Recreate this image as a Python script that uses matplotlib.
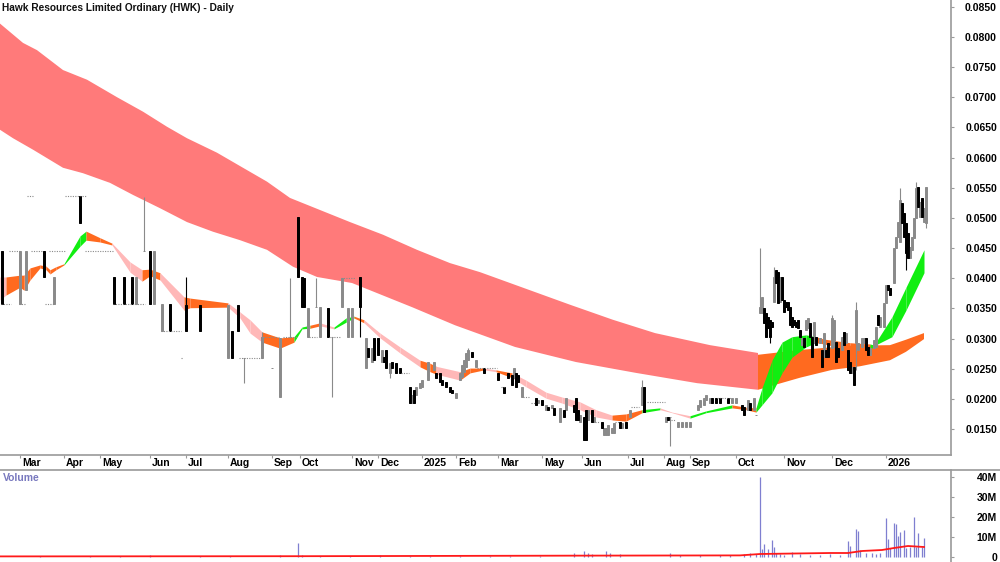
import numpy as np
import matplotlib
matplotlib.use('Agg')
import matplotlib.pyplot as plt
import matplotlib.transforms as mtransforms
from matplotlib.lines import Line2D

plt.rcParams['font.family'] = ['Liberation Sans', 'DejaVu Sans']

title = 'Hawk Resources Limited Ordinary (HWK) - Daily'

# x axis = trading day index
month_days = [10, 32, 50, 75, 93, 114, 136, 150, 176, 189, 211, 228, 249, 271, 291, 314, 332, 345, 368, 392, 416, 443]
month_labels = ['Mar', 'Apr', 'May', 'Jun', 'Jul', 'Aug', 'Sep', 'Oct', 'Nov', 'Dec', '2025', 'Feb',
                'Mar', 'May', 'Jun', 'Jul', 'Aug', 'Sep', 'Oct', 'Nov', 'Dec', '2026']

# daily candles (day, open, high, low, close)
day = [1, 10, 13, 22, 27, 40, 57, 62, 66, 68, 72, 75, 77, 81, 85, 93, 100, 114, 116, 119,
       122, 131, 136, 140, 145, 149, 151, 152, 154, 158, 160, 164, 166, 171, 174, 176, 180, 183, 184, 186,
       187, 189, 191, 192, 193, 195, 196, 198, 200, 205, 206, 207, 208, 210, 211, 214, 217, 218, 220, 221,
       223, 225, 226, 228, 230, 231, 232, 233, 234, 236, 238, 242, 249, 252, 254, 256, 257, 258, 259, 261,
       268, 269, 271, 273, 274, 276, 277, 280, 282, 283, 287, 288, 289, 290, 292, 293, 294, 296, 297, 301,
       302, 303, 304, 306, 307, 310, 311, 313, 315, 321, 322, 333, 334, 335, 339, 341, 343, 345, 349, 350,
       352, 353, 355, 356, 358, 360, 364, 366, 368, 371, 372, 374, 375, 377, 378,
       380, 381, 382, 383, 384, 385, 386, 387, 388, 389, 390, 391, 392, 393, 394, 395, 396, 397, 398, 399,
       400, 401, 402, 403, 404, 405, 406, 407, 408, 410, 411, 412, 413, 414, 416, 417, 418, 419, 421, 422,
       423, 424, 425, 426, 427, 428, 429, 431, 432, 433, 434, 435, 437, 438, 439, 440, 442, 443, 444, 445,
       447, 448, 449, 450, 451, 452, 453, 454, 455, 456, 457, 458, 459, 460, 461, 462, 463]
opn = [.0445, .0357, .0380, .0445, .0357, .0536, .0402, .0402, .0402, .0357, .0445, .0445, .0357, .0312, .0357, .0356, .0356, .0268, .0312, .0356,
       .0268, .0268, .0251, .0203, .0303, .0501, .0402, .0400, .0303, .0352, .0303, .0351, .0303, .0352, .0303, .0303, .0402, .0251, .0284, .0261,
       .0301, .0301, .0261, .0269, .0281, .0243, .0261, .0259, .0251, .0220, .0193, .0215, .0206, .0218, .0220, .0231, .0248, .0243, .0243, .0231,
       .0228, .0220, .0215, .0201, .0231, .0236, .0245, .0253, .0264, .0278, .0253, .0251, .0243, .0220, .0243, .0240, .0235, .0243, .0240, .0203,
       .0201, .0193, .0198, .0182, .0186, .0185, .0185, .0162, .0182, .0182, .0190, .0201, .0182, .0162, .0170, .0182, .0165, .0182, .0162, .0162,
       .0140, .0140, .0140, .0143, .0143, .0162, .0152, .0162, .0170, .0190, .0220, .0162, .0170, .0170, .0153, .0153, .0153, .0153, .0182, .0186,
       .0190, .0198, .0193, .0201, .0201, .0201, .0201, .0193, .0193, .0190, .0186, .0182, .0193, .0182, .0173,
       .0342, .0342, .0351, .0342, .0336, .0331, .0327, .0361, .0414, .0410, .0361, .0402, .0364, .0361, .0361, .0352, .0336, .0331, .0327, .0331,
       .0314, .0289, .0301, .0314, .0317, .0326, .0303, .0293, .0303, .0293, .0281, .0269, .0281, .0293, .0284, .0286, .0294, .0284, .0281, .0311,
       .0293, .0281, .0261, .0243, .0253, .0293, .0281, .0286, .0293, .0301, .0286, .0273, .0284, .0286, .0339, .0319, .0319, .0359, .0389, .0384,
       .0392, .0450, .0468, .0460, .0525, .0508, .0492, .0475, .0434, .0447, .0467, .0500, .0551, .0501, .0533, .0493, .0492]
high = [.0445, .0445, .0445, .0445, .0402, .0536, .0402, .0402, .0402, .0402, .0535, .0445, .0445, .0357, .0357, .0402, .0356, .0356, .0312, .0356,
        .0268, .0311, .0251, .0301, .0400, .0501, .0402, .0400, .0351, .0400, .0352, .0351, .0303, .0400, .0351, .0351, .0402, .0301, .0284, .0284,
        .0301, .0301, .0281, .0269, .0281, .0259, .0261, .0259, .0251, .0220, .0206, .0215, .0220, .0226, .0231, .0261, .0261, .0243, .0243, .0231,
        .0228, .0220, .0215, .0210, .0243, .0256, .0264, .0276, .0284, .0278, .0264, .0251, .0243, .0220, .0243, .0240, .0251, .0243, .0240, .0220,
        .0201, .0198, .0198, .0190, .0186, .0190, .0185, .0185, .0182, .0201, .0190, .0201, .0182, .0173, .0170, .0182, .0182, .0182, .0170, .0162,
        .0152, .0152, .0157, .0152, .0160, .0162, .0160, .0162, .0182, .0231, .0220, .0170, .0170, .0170, .0162, .0162, .0162, .0162, .0190, .0198,
        .0201, .0206, .0201, .0201, .0201, .0201, .0201, .0201, .0201, .0190, .0186, .0198, .0193, .0201, .0173,
        .0450, .0369, .0351, .0342, .0336, .0331, .0327, .0419, .0414, .0410, .0402, .0402, .0364, .0361, .0361, .0352, .0336, .0331, .0327, .0331,
        .0314, .0301, .0301, .0331, .0334, .0326, .0303, .0327, .0303, .0301, .0281, .0309, .0281, .0293, .0339, .0331, .0294, .0284, .0303, .0311,
        .0309, .0281, .0261, .0253, .0253, .0361, .0293, .0301, .0301, .0301, .0286, .0284, .0298, .0319, .0339, .0336, .0359, .0389, .0389, .0384,
        .0450, .0468, .0493, .0550, .0525, .0508, .0492, .0475, .0452, .0468, .0500, .0560, .0551, .0526, .0533, .0516, .0551]
low = [.0357, .0357, .0380, .0402, .0357, .0492, .0357, .0357, .0357, .0357, .0445, .0357, .0357, .0312, .0312, .0312, .0312, .0268, .0268, .0312,
       .0226, .0268, .0251, .0203, .0303, .0402, .0352, .0352, .0303, .0352, .0303, .0303, .0203, .0352, .0303, .0303, .0303, .0251, .0269, .0261,
       .0264, .0273, .0261, .0261, .0251, .0235, .0251, .0243, .0243, .0193, .0193, .0193, .0206, .0218, .0220, .0231, .0248, .0235, .0228, .0223,
       .0220, .0211, .0210, .0201, .0231, .0236, .0245, .0253, .0264, .0269, .0253, .0243, .0231, .0210, .0235, .0223, .0235, .0220, .0228, .0203,
       .0190, .0193, .0190, .0182, .0182, .0185, .0173, .0162, .0170, .0182, .0178, .0165, .0165, .0162, .0132, .0132, .0165, .0162, .0162, .0152,
       .0140, .0140, .0140, .0143, .0143, .0152, .0152, .0152, .0170, .0190, .0178, .0162, .0165, .0122, .0153, .0153, .0153, .0153, .0182, .0186,
       .0190, .0198, .0193, .0193, .0193, .0193, .0193, .0193, .0193, .0182, .0173, .0182, .0182, .0182, .0173,
       .0342, .0342, .0326, .0303, .0317, .0293, .0319, .0361, .0392, .0359, .0361, .0364, .0344, .0352, .0347, .0322, .0319, .0322, .0319, .0317,
       .0303, .0289, .0286, .0314, .0317, .0303, .0269, .0293, .0289, .0293, .0253, .0269, .0269, .0269, .0284, .0286, .0261, .0269, .0281, .0289,
       .0293, .0248, .0243, .0243, .0223, .0248, .0281, .0286, .0293, .0281, .0273, .0273, .0284, .0286, .0322, .0319, .0319, .0359, .0380, .0372,
       .0392, .0450, .0468, .0460, .0492, .0468, .0414, .0434, .0434, .0447, .0467, .0500, .0518, .0501, .0501, .0493, .0483]
close = [.0357, .0445, .0445, .0402, .0402, .0492, .0357, .0357, .0357, .0402, .0445, .0357, .0445, .0357, .0312, .0312, .0312, .0356, .0268, .0312,
         .0268, .0303, .0251, .0301, .0303, .0402, .0352, .0352, .0351, .0352, .0352, .0303, .0303, .0400, .0351, .0351, .0352, .0301, .0269, .0284,
         .0264, .0273, .0281, .0261, .0251, .0259, .0251, .0243, .0243, .0193, .0206, .0193, .0220, .0226, .0231, .0261, .0261, .0235, .0228, .0223,
         .0220, .0211, .0210, .0210, .0243, .0256, .0264, .0276, .0281, .0269, .0264, .0243, .0231, .0210, .0235, .0223, .0251, .0220, .0228, .0220,
         .0190, .0198, .0190, .0190, .0182, .0190, .0173, .0185, .0170, .0201, .0178, .0165, .0165, .0173, .0132, .0132, .0182, .0162, .0170, .0152,
         .0152, .0152, .0157, .0152, .0160, .0152, .0160, .0152, .0182, .0220, .0178, .0170, .0165, .0170, .0162, .0162, .0162, .0162, .0190, .0198,
         .0201, .0206, .0201, .0193, .0193, .0193, .0193, .0201, .0201, .0182, .0173, .0198, .0182, .0201, .0173,
         .0352, .0369, .0326, .0303, .0317, .0303, .0319, .0402, .0392, .0359, .0402, .0364, .0344, .0352, .0347, .0322, .0319, .0322, .0319, .0317,
         .0303, .0301, .0286, .0331, .0334, .0303, .0269, .0327, .0289, .0301, .0253, .0309, .0269, .0269, .0334, .0331, .0261, .0269, .0303, .0289,
         .0309, .0248, .0243, .0253, .0223, .0347, .0293, .0301, .0301, .0281, .0273, .0284, .0298, .0319, .0322, .0336, .0359, .0389, .0380, .0372,
         .0450, .0468, .0493, .0530, .0492, .0468, .0442, .0434, .0452, .0468, .0500, .0550, .0518, .0526, .0501, .0516, .0551]

# no-trade days drawn as dotted dashes (first day, last day, price)
flat_start = [5, 16, 25, 43, 1, 10, 23, 57, 14, 33, 81, 91, 120, 131, 142, 155, 165, 171, 201, 239, 251, 262, 266, 298, 308, 316, 324, 336, 359]
flat_end = [10, 21, 32, 56, 5, 12, 27, 72, 16, 43, 90, 91, 131, 139, 148, 158, 170, 177, 204, 248, 252, 264, 267, 299, 309, 319, 332, 337, 365]
flat_price = [.0445, .0445, .0445, .0445, .0357, .0357, .0357, .0357, .0536, .0536, .0312, .0268, .0268, .0303, .0303, .0303, .0303, .0400,
              .0243, .0251, .0220, .0203, .0193, .0162, .0162, .0186, .0195, .0165, .0201]

# long-term moving average ribbon
long_top_day = [0, 11.5, 18.5, 31.5, 43.5, 58.5, 71.5, 83.5, 93.5, 108.5, 121.5, 133.5, 145, 160, 175, 191.5, 208.5, 225, 240,
                257.5, 285, 306.5, 327.5, 355, 379]
long_top = [.0822, .0790, .0778, .0745, .0729, .0700, .0676, .0651, .0632, .0608, .0583, .0560, .0533, .0513, .0493, .0472, .0447, .0425, .0410,
            .0389, .0356, .0331, .0309, .0289, .0276]
long_bot_day = [0, 6.5, 16.5, 25, 31.5, 41.5, 55, 66.5, 80, 93.5, 106.5, 120, 133.5, 146.5, 158.5, 176, 206, 227.5, 257.5, 288, 318, 348.5, 379]
long_bot = [.0646, .0632, .0613, .0596, .0583, .0574, .0558, .0538, .0516, .0493, .0477, .0463, .0447, .0419, .0402, .0392, .0352, .0322,
            .0286, .0261, .0243, .0226, .0215]
long_top2_day = [379, 400, 425, 445, 453, 462]
long_top2 = [.0273, .0281, .0288, .0289, .0298, .0309]
long_bot2_day = [379, 400, 416, 430, 445, 453, 462]
long_bot2 = [.0215, .0235, .0248, .0254, .0264, .0278, .0299]

# short-term moving average ribbon, colour code applies up to the next point
short_day = [0, 3, 10, 12, 15, 20, 23, 25, 28, 32, 40, 43, 50, 56, 65, 71, 75, 80, 92, 95,
             114, 120, 125, 131, 140, 147, 151, 155, 160, 167, 173, 177, 182, 190, 200, 210, 215, 218, 230, 235,
             242, 248, 256, 263, 273, 281, 290, 298, 306, 313, 321, 330, 336, 345, 353, 366, 373, 378, 381, 386,
             391, 396, 403, 408, 412, 425, 435, 437, 446, 453, 462]
short_hi = [.0402, .0402, .0405, .0405, .0417, .0422, .0420, .0414, .0419, .0424, .0470, .0478, .0467, .0458, .0427, .0414, .0415, .0409, .0369, .0367,
            .0359, .0344, .0331, .0311, .0301, .0303, .0319, .0322, .0326, .0319, .0334, .0337, .0331, .0309, .0286, .0264, .0259, .0254, .0245, .0251,
            .0251, .0248, .0243, .0231, .0211, .0203, .0195, .0182, .0173, .0175, .0182, .0185, .0178, .0172, .0180, .0190, .0186, .0185, .0218, .0264,
            .0294, .0303, .0306, .0303, .0299, .0293, .0291, .0289, .0336, .0385, .0447]
short_lo = [.0364, .0372, .0385, .0380, .0397, .0417, .0414, .0407, .0414, .0422, .0453, .0463, .0460, .0455, .0410, .0395, .0404, .0397, .0347, .0351,
            .0352, .0334, .0309, .0294, .0284, .0294, .0316, .0317, .0321, .0316, .0327, .0334, .0326, .0301, .0276, .0253, .0245, .0241, .0231, .0243,
            .0248, .0245, .0235, .0220, .0201, .0193, .0182, .0170, .0165, .0163, .0177, .0182, .0177, .0168, .0177, .0185, .0182, .0178, .0190, .0210,
            .0243, .0269, .0286, .0293, .0291, .0281, .0281, .0288, .0303, .0347, .0409]
short_col = ('p' + 'oooooooo' + 'gg' + 'oo' + 'pp' + 'oo' + 'p' + 'oo' + 'ppp' + 'oo' + 'gg' + 'o' + 'p' + 'gg' + 'o'
             + 'ppp' + 'oo' + 'p' + 'oo' + 'p' + 'o' + 'pppppp' + 'oo' + 'g' + 'pp' + 'gg' + 'oo' + 'gggggg' + 'ooo' + 'gggg')

# volume (millions)
vol_day = [20, 45, 60, 75, 100, 115, 140, 149, 151, 160, 175, 190, 205, 215, 230, 245, 255, 270, 287, 292,
           294, 296, 303, 305, 310, 335, 340, 350, 360, 365, 372, 375, 378, 380, 381, 382, 384, 386, 387, 388,
           390, 392, 396, 400, 405, 410, 415, 420, 424, 425, 428, 429, 430, 433, 436, 438, 440, 443, 444, 445,
           447, 448, 449, 450, 452, 453, 455, 457, 458, 459, 461, 462]
vol_m = [0.5, 0.4, 0.6, 0.8, 0.5, 0.6, 1.0, 7.0, 1.0, 0.6, 0.5, 0.8, 0.7, 0.6, 0.6, 0.5, 0.6, 0.5, 2.0, 3.0,
         2.0, 1.5, 3.0, 2.0, 1.5, 2.0, 0.8, 1.0, 1.2, 0.8, 1.5, 2.0, 1.5, 40.0, 4.0, 6.5, 4.0, 8.5, 5.0, 2.0,
         1.5, 1.0, 2.5, 1.5, 1.0, 1.2, 1.5, 1.0, 8.0, 5.5, 14.0, 13.0, 3.5, 2.0, 2.0, 1.5, 2.0, 19.5, 9.0, 4.5,
         17.0, 16.5, 10.5, 12.5, 13.5, 4.5, 5.0, 20.0, 5.0, 12.0, 5.0, 9.5]
vol_ma_day = [0, 150, 300, 370, 380, 415, 424, 431, 441, 447, 454, 462]
vol_ma = [0.3, 0.4, 0.7, 0.8, 1.5, 2.0, 2.0, 3.0, 3.5, 4.5, 5.5, 5.0]

RED_BAND = '#ff7a7a'
ORANGE = '#ff6a1f'
PINK = '#ffb8b8'
GREEN = '#11ee11'
GREY = '#8a8a8a'
AXIS = '#9a9a9a'
band_colours = {'p': PINK, 'o': ORANGE, 'g': GREEN}

fig = plt.figure(figsize=(10, 5.62), dpi=100)
ax = fig.add_axes([0, 1 - 455 / 562, 0.951, 455 / 562])
axv = fig.add_axes([0, 0, 0.951, 92 / 562])

# long ribbon
ax.fill(np.r_[long_top_day, long_bot_day[::-1]], np.r_[long_top, long_bot[::-1]], color=RED_BAND, lw=0)
ax.fill(np.r_[long_top2_day, long_bot2_day[::-1]], np.r_[long_top2, long_bot2[::-1]], color=ORANGE, lw=0)

# short ribbon
for i in range(len(short_day) - 1):
    ax.fill_between(short_day[i:i + 2], short_lo[i:i + 2], short_hi[i:i + 2],
                    color=band_colours[short_col[i]], lw=0)

# no-trade dashes
ax.hlines(flat_price, np.array(flat_start) - 0.4, np.array(flat_end) + 0.4,
          color=GREY, lw=0.8, linestyles=(0, (1, 1.2)))

# candles
d = np.array(day, dtype=float)
o, h, l, c = (np.array(v) for v in (opn, high, low, close))
up = c >= o
ax.vlines(d[up], l[up], h[up], color=GREY, lw=0.8)
ax.vlines(d[~up], l[~up], h[~up], color='black', lw=0.8)
body_lo = np.minimum(o, c)
body_h = np.abs(c - o)
ax.bar(d[up], body_h[up], bottom=body_lo[up], width=1.0, color='white', edgecolor=GREY, lw=0.7)
ax.bar(d[~up], body_h[~up], bottom=body_lo[~up], width=1.0, color='black', edgecolor='black', lw=0.7)

ax.set_xlim(0, 475.5)
ax.set_ylim(0.01069, 0.08611)
for s in ['left', 'top']:
    ax.spines[s].set_visible(False)
for s in ['right', 'bottom']:
    ax.spines[s].set_color(AXIS)
    ax.spines[s].set_linewidth(1.2)
ax.set_facecolor('none')

ax.yaxis.tick_right()
ax.set_yticks(np.arange(0.015, 0.0851, 0.005))
ax.set_yticklabels(['%.4f' % v for v in np.arange(0.015, 0.0851, 0.005)])
ax.tick_params(axis='y', direction='out', length=2.2, color=AXIS, pad=30.9, labelsize=7.5)
for t in ax.get_yticklabels():
    t.set_horizontalalignment('right')
    t.set_fontweight('bold')

ax.set_xticks(month_days)
ax.set_xticklabels([])
ax.tick_params(axis='x', direction='out', length=2.5, color=AXIS)
trans = mtransforms.blended_transform_factory(ax.transData, ax.transAxes)
for md, lab in zip(month_days, month_labels):
    ax.text(md + 0.9, -8 / 455, lab, transform=trans, ha='left', va='center',
            fontsize=7.5, fontweight='bold', color='black')

fig.text(2 / 1000, 1 - 8 / 562, title, ha='left', va='center', fontsize=7.3, fontweight='bold', color='#111111')

# volume panel
axv.vlines(vol_day, 0, vol_m, color='#7f7fd0', lw=0.9)
axv.plot(vol_ma_day, vol_ma, color='#ff1a1a', lw=1.3)
axv.set_xlim(0, 475.5)
axv.set_ylim(-2.5, 43.5)
for s in ['left', 'top', 'bottom']:
    axv.spines[s].set_visible(False)
axv.spines['right'].set_color(AXIS)
axv.spines['right'].set_linewidth(1.2)
axv.set_xticks([])
axv.yaxis.tick_right()
axv.set_yticks([0, 10, 20, 30, 40])
axv.set_yticklabels(['0', '10M', '20M', '30M', '40M'])
axv.tick_params(axis='y', direction='out', length=2.2, color=AXIS, pad=30.9, labelsize=7.5)
for t in axv.get_yticklabels():
    t.set_horizontalalignment('right')
    t.set_fontweight('bold')
axv.text(3 / 951, 1 - 8 / 92, 'Volume', transform=axv.transAxes, ha='left', va='center',
         fontsize=7.5, fontweight='bold', color='#7878be')

fig.add_artist(Line2D([0, 1], [1 - 470 / 562] * 2, color=AXIS, lw=1.2))

fig.savefig('out.png', dpi=100)
